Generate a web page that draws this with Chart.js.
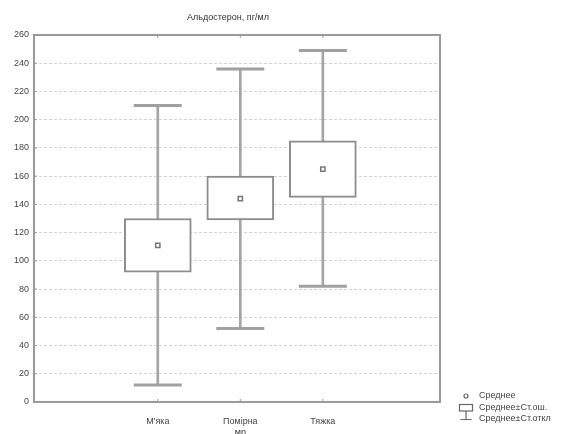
<!DOCTYPE html>
<html lang="uk">
<head>
<meta charset="UTF-8">
<title>Альдостерон, пг/мл</title>
<script src="https://cdn.jsdelivr.net/npm/chart.js"></script>
<style>
  html, body { margin: 0; padding: 0; background: #fff; }
  canvas { display: block; }
</style>
</head>
<body>
<canvas id="chart" width="572" height="434"></canvas>
<script>
// data
const categories = ["М'яка", "Помірна", "Тяжка"];
const positions = [1, 2, 3];
const means = [111, 144, 165];
const seLow = [92, 129, 145];
const seHigh = [130, 160, 185];
const sdLow = [12, 52, 82];
const sdHigh = [210, 236, 249];
const yMin = 0, yMax = 260, yStep = 20;
const legendLabels = ['Среднее', 'Среднее±Ст.ош.', 'Среднее±Ст.откл'];
const chartTitle = 'Альдостерон, пг/мл';
const xTitle = 'мр';

const FONT = '"Liberation Sans", Arial, sans-serif';
const GREY = '#8c8c8c';

const pts = vals => vals.map((v, i) => ({ x: positions[i], y: v }));
const rng = (lo, hi) => lo.map((v, i) => ({ x: positions[i], y: [v, hi[i]] }));

// frame, small ticks, title, axis title and legend
const decor = {
    id: 'decor',
    afterDraw(chart) {
        const ctx = chart.ctx;
        const a = chart.chartArea;
        const xs = chart.scales.x, ys = chart.scales.y;
        ctx.save();
        ctx.strokeStyle = '#9a9a9a';
        ctx.lineWidth = 2;
        ctx.strokeRect(a.left, a.top, a.right - a.left, a.bottom - a.top);

        ctx.lineWidth = 1;
        ctx.strokeStyle = '#999';
        ctx.beginPath();
        positions.forEach(p => {
            const x = xs.getPixelForValue(p);
            ctx.moveTo(x, a.bottom); ctx.lineTo(x, a.bottom - 3);
            ctx.moveTo(x, a.top); ctx.lineTo(x, a.top + 3);
        });
        for (let v = yMin + yStep; v < yMax; v += yStep) {
            const y = ys.getPixelForValue(v);
            ctx.moveTo(a.left, y); ctx.lineTo(a.left + 3, y);
        }
        ctx.stroke();

        ctx.fillStyle = '#333';
        ctx.font = '9px ' + FONT;
        ctx.textAlign = 'center';
        ctx.textBaseline = 'middle';
        ctx.fillText(chartTitle, 228, 18);
        ctx.textBaseline = 'top';
        ctx.fillText(xTitle, xs.getPixelForValue(2), 428);

        // legend
        ctx.strokeStyle = '#666';
        ctx.lineWidth = 1.2;
        ctx.beginPath();
        ctx.arc(466, 396, 2, 0, Math.PI * 2);
        ctx.stroke();
        ctx.strokeRect(459.5, 404.5, 13, 6.5);
        ctx.beginPath();
        ctx.moveTo(466, 411); ctx.lineTo(466, 415);
        ctx.moveTo(466, 413); ctx.lineTo(466, 419.5);
        ctx.moveTo(460.5, 419.5); ctx.lineTo(471.5, 419.5);
        ctx.stroke();
        ctx.textAlign = 'left';
        ctx.textBaseline = 'middle';
        ctx.fillStyle = '#444';
        [396, 408, 419].forEach((y, i) => ctx.fillText(legendLabels[i], 479, y));
        ctx.restore();
    }
};

new Chart(document.getElementById('chart'), {
    type: 'bar',
    data: {
        datasets: [
            {
                type: 'bar', label: 'sd', data: rng(sdLow, sdHigh),
                barThickness: 2, backgroundColor: '#a5a5a5', borderWidth: 0,
                grouped: false, order: 4
            },
            {
                type: 'bar', label: 'se', data: rng(seLow, seHigh),
                barThickness: 67, backgroundColor: '#fff', borderColor: GREY,
                borderWidth: 2, borderSkipped: false, grouped: false, order: 3
            },
            {
                type: 'line', label: 'caps', data: pts(sdHigh).concat(pts(sdLow)),
                showLine: false, pointStyle: 'line', pointRadius: 24, pointHoverRadius: 24,
                pointBorderWidth: 3, borderColor: '#a0a0a0', order: 2
            },
            {
                type: 'line', label: 'mean', data: pts(means),
                showLine: false, pointStyle: 'rect', pointRadius: 3, pointHoverRadius: 3,
                pointBorderWidth: 1.5, borderColor: '#777', backgroundColor: '#fff', order: 1
            }
        ]
    },
    options: {
        responsive: false,
        animation: false,
        events: [],
        layout: { padding: { top: 35, right: 132, left: 0, bottom: 0 } },
        plugins: { legend: { display: false }, tooltip: { enabled: false }, title: { display: false } },
        scales: {
            x: {
                type: 'linear', min: -0.5, max: 4.42, offset: false,
                afterBuildTicks: s => { s.ticks = positions.map(v => ({ value: v })); },
                afterFit: s => { s.height = 32; },
                ticks: {
                    callback: v => categories[positions.indexOf(v)] || '',
                    autoSkip: false, maxRotation: 0, padding: 6,
                    color: '#444', font: { family: FONT, size: 9 }
                },
                grid: { display: false, offset: false },
                border: { display: false }
            },
            y: {
                min: yMin, max: yMax,
                afterFit: s => { s.width = 34; },
                ticks: { stepSize: yStep, padding: 5, color: '#444', font: { family: FONT, size: 9 } },
                grid: { color: '#d2d2d2', lineWidth: 1, drawTicks: false, borderDash: [3, 2] },
                border: { display: false, dash: [3, 2] }
            }
        }
    },
    plugins: [decor]
});
</script>
</body>
</html>
